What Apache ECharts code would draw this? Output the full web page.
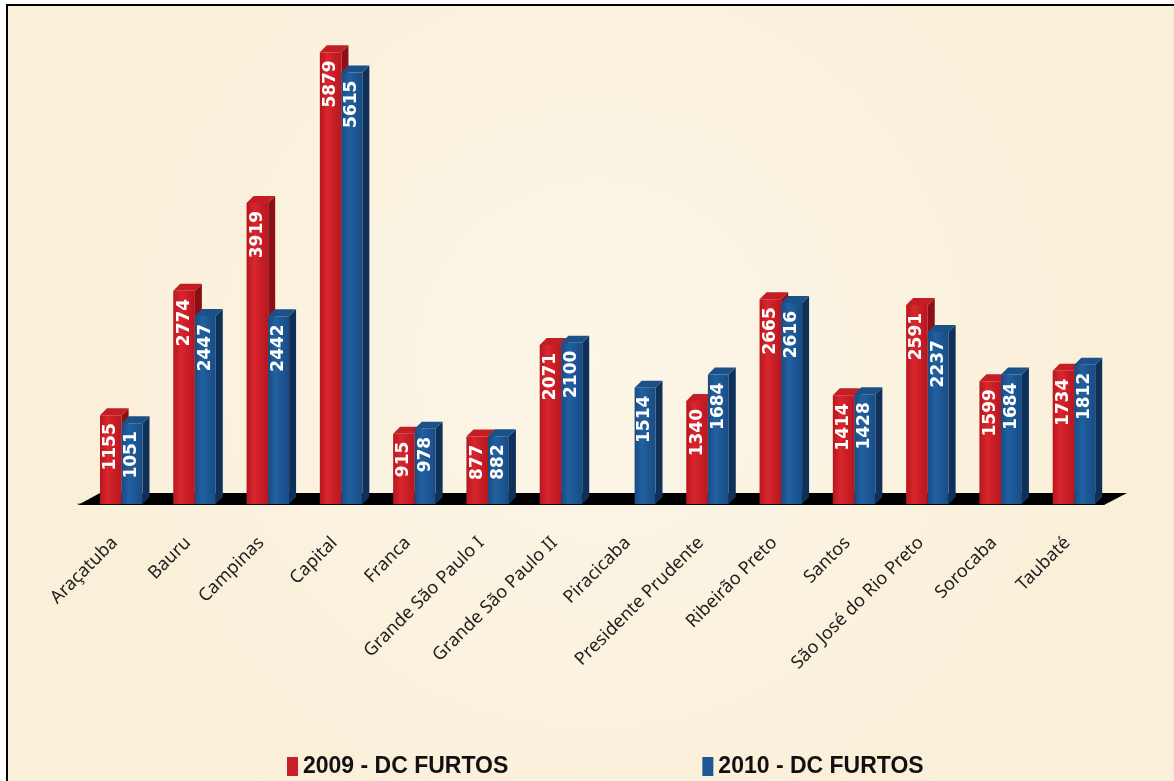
<!DOCTYPE html>
<html>
<head>
<meta charset="utf-8">
<script src="https://cdn.jsdelivr.net/npm/echarts@6/dist/echarts.min.js"></script>
<style>
  html, body { margin: 0; padding: 0; background: #fff; }
  #chart { width: 1174px; height: 781px; }
</style>
</head>
<body>
<div id="chart"></div>
<script>
// dados
const categories = ['Araçatuba', 'Bauru', 'Campinas', 'Capital', 'Franca', 'Grande São Paulo I',
  'Grande São Paulo II', 'Piracicaba', 'Presidente Prudente', 'Ribeirão Preto', 'Santos',
  'São José do Rio Preto', 'Sorocaba', 'Taubaté'];
const furtos2009 = [1155, 2774, 3919, 5879, 915, 877, 2071, null, 1340, 2665, 1414, 2591, 1599, 1734];
const furtos2010 = [1051, 2447, 2442, 5615, 978, 882, 2100, 1514, 1684, 2616, 1428, 2237, 1684, 1812];
const seriesNames = ['2009 - DC FURTOS', '2010 - DC FURTOS'];

const chart = echarts.init(document.getElementById('chart'));

// barra "3D": frente + lateral + topo
function bar3d(c, fromFrac, toFrac) {
  return function (params, api) {
    const v = api.value(1);
    if (v == null || isNaN(v)) return;
    const base = api.coord([api.value(0), 0]);
    const top = api.coord([api.value(0), v]);
    const w = api.size([1, 0])[0];
    const x0 = base[0] + fromFrac * w, x1 = base[0] + toFrac * w;
    const d = 7;
    return {
      type: 'group',
      children: [
        { type: 'polygon', shape: { points: [[x1, top[1]], [x1 + d, top[1] - d], [x1 + d, base[1] - d], [x1, base[1]]] },
          style: { fill: c.side } },
        { type: 'polygon', shape: { points: [[x0, top[1]], [x0 + d, top[1] - d], [x1 + d, top[1] - d], [x1, top[1]]] },
          style: { fill: c.top } },
        { type: 'rect', shape: { x: x0, y: top[1], width: x1 - x0, height: base[1] - top[1] },
          style: { fill: new echarts.graphic.LinearGradient(0, 0, 1, 0, [
            { offset: 0, color: c.edge }, { offset: 0.35, color: c.front }, { offset: 1, color: c.edge }]) } },
        { type: 'text', x: (x0 + x1) / 2, y: top[1] + 8, rotation: Math.PI / 2,
          style: { text: String(v), fill: '#fff', font: 'bold 17px "DejaVu Sans"', align: 'right', verticalAlign: 'middle' } }
      ]
    };
  };
}

const red = { front: '#D8262E', edge: '#B8161E', side: '#8A1015', top: '#C41D24' };
const blue = { front: '#21609F', edge: '#184C85', side: '#0F3059', top: '#1B5189' };

const option = {
  backgroundColor: '#fff',
  animation: false,
  graphic: [{
    type: 'rect', z: -10,
    shape: { x: 7, y: 5, width: 1180, height: 790 },
    style: {
      fill: new echarts.graphic.RadialGradient(0.5, 0.45, 0.7, [
        { offset: 0, color: '#FCF6E8' }, { offset: 1, color: '#FAEFD8' }]),
      stroke: '#000', lineWidth: 2
    }
  }],
  grid: { left: 78, right: 70, top: 43, bottom: 277 },
  legend: {
    data: seriesNames,
    left: 282, top: 750,
    icon: 'rect', itemWidth: 11, itemHeight: 19, itemGap: 194,
    textStyle: { fontFamily: '"Liberation Sans"', fontWeight: 'bold', fontSize: 23, color: '#111' }
  },
  xAxis: {
    type: 'category',
    data: categories,
    offset: 3,
    axisLine: { lineStyle: { color: '#888', width: 1.5 } },
    axisTick: { length: 5, lineStyle: { color: '#888' } },
    axisLabel: { rotate: 45, interval: 0, margin: 33, fontFamily: 'Noto Sans', fontSize: 18, color: '#222' }
  },
  yAxis: { type: 'value', min: 0, max: 6000, show: false },
  series: [
    {
      type: 'custom', silent: true,
      data: [[0]],
      renderItem: function (params) {
        const cs = params.coordSys;
        const yb = cs.y + cs.height + 1;
        return {
          type: 'polygon',
          shape: { points: [[cs.x, yb], [cs.x + cs.width, yb], [cs.x + cs.width + 23, yb - 12], [cs.x + 22, yb - 12]] },
          style: { fill: '#000' }
        };
      }
    },
    {
      name: seriesNames[0], type: 'custom', itemStyle: { color: '#C8202A' },
      data: furtos2009.map((v, i) => [i, v]),
      renderItem: bar3d(red, -0.2, 0.095)
    },
    {
      name: seriesNames[1], type: 'custom', itemStyle: { color: '#1D5697' },
      data: furtos2010.map((v, i) => [i, v]),
      renderItem: bar3d(blue, 0.095, 0.38)
    }
  ]
};

chart.setOption(option);
</script>
</body>
</html>
